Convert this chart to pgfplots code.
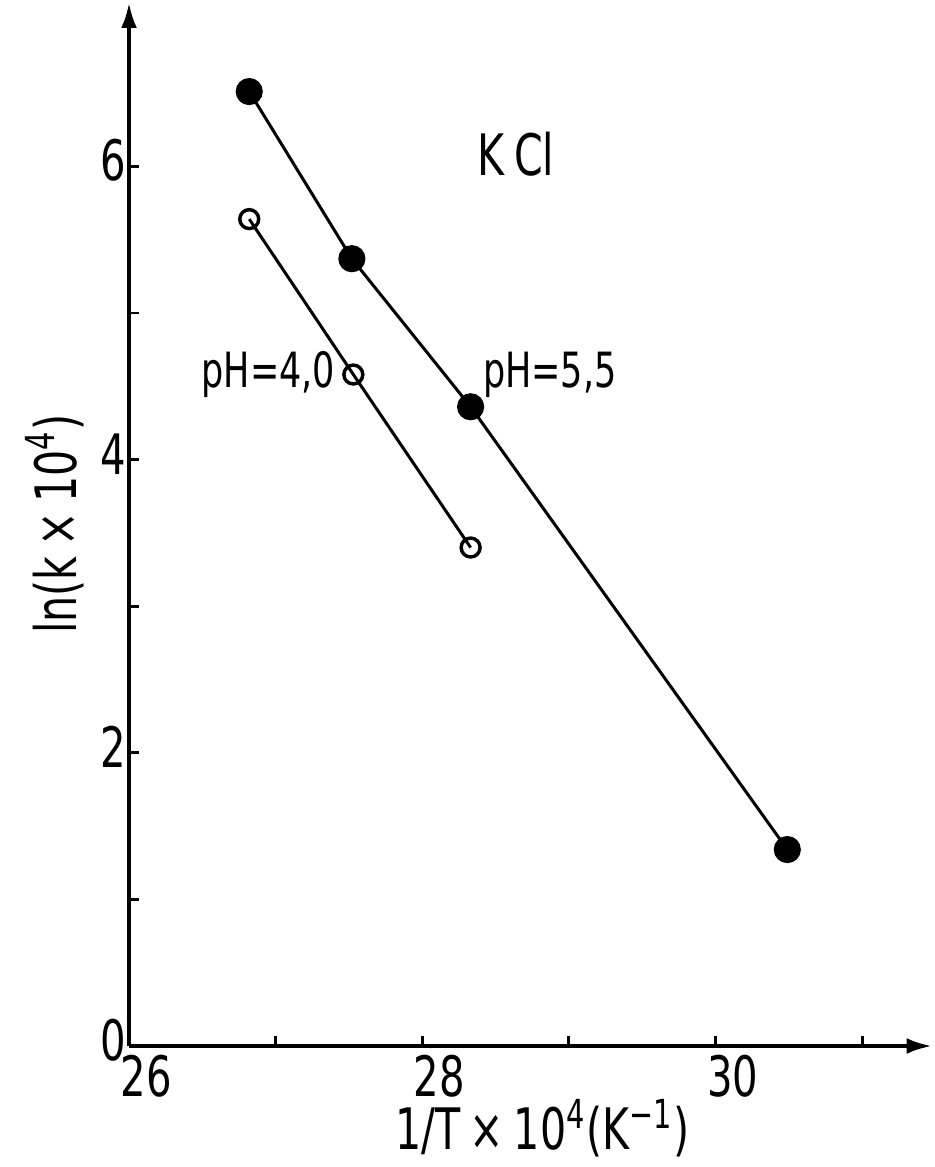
\documentclass[border=0pt]{standalone}
\usepackage{pgfplots}
\pgfplotsset{compat=1.18}
\usepackage{fontspec}
\setmainfont[FakeStretch=0.8]{DejaVu Sans Condensed}
\usetikzlibrary{arrows.meta}

\begin{document}
\begin{tikzpicture}
\begin{axis}[
  x=51.1bp, y=51.1bp,
  xmin=26, xmax=31.48,
  ymin=0, ymax=7.12,
  axis lines=left,
  axis line style={line width=1.5bp, -{Latex[length=9bp,width=5.5bp]}},
  xtick={26,27,28,29,30,31},
  xticklabels={26,,28,,30,},
  ytick={0,1,2,3,4,5,6},
  yticklabels={0,,2,,4,,6},
  tick align=inside,
  major tick length=3.6bp,
  tick style={line width=1bp, black},
  ticklabel style={font=\fontsize{19.5}{22}\selectfont},
  /pgf/number format/assume math mode=true,
  xticklabel style={yshift=0.5bp, xshift=6bp},
  yticklabel style={xshift=2.5bp, yshift=2bp},
  xlabel={1/T\,×\,10\textsuperscript{4}(K\textsuperscript{−1})},
  ylabel={ln(k\,×\,10\textsuperscript{4})},
  label style={font=\fontsize{20}{22}\selectfont},
  xlabel style={yshift=6bp, xshift=4bp},
  ylabel style={yshift=-1bp},
  clip=false,
]
\addplot[black, line width=1.05bp, mark=*, mark size=4.2bp, mark options={fill=black}] coordinates {
  (26.82,6.51) (27.52,5.37) (28.33,4.36) (30.49,1.34)
};
\addplot[black, line width=1.05bp, mark=o, mark size=3.3bp, mark options={fill=white, line width=1.2bp}] coordinates {
  (26.82,5.64) (27.53,4.58) (28.33,3.40)
};
\node[font=\fontsize{20}{22}\selectfont] at (axis cs:28.64,6.08) {K\,Cl};
\node[font=\fontsize{17}{19}\selectfont] at (axis cs:26.95,4.58) {pH=4,0};
\node[font=\fontsize{17}{19}\selectfont] at (axis cs:28.87,4.58) {pH=5,5};
\path (axis cs:25.12,0);
\end{axis}
\end{tikzpicture}
\end{document}
